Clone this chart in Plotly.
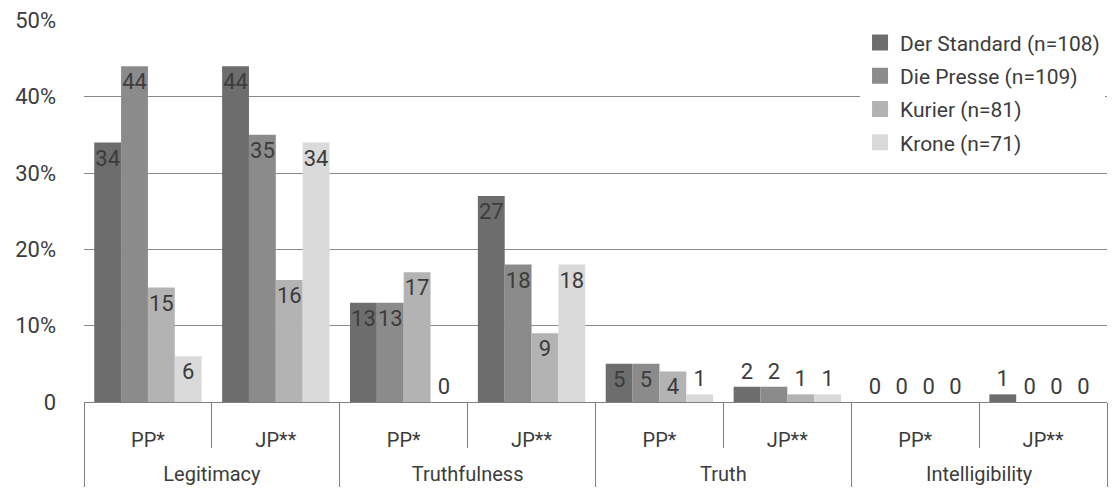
import plotly.graph_objects as go

outer = ["Legitimacy", "Legitimacy", "Truthfulness", "Truthfulness",
         "Truth", "Truth", "Intelligibility", "Intelligibility"]
inner_labels = ["PP*", "JP**", "PP*", "JP**", "PP*", "JP**", "PP*", "JP**"]

series_names = ["Der Standard (n=108)", "Die Presse (n=109)", "Kurier (n=81)", "Krone (n=71)"]
der_standard = [34, 44, 13, 27, 5, 2, 0, 1]
die_presse = [44, 35, 13, 18, 5, 2, 0, 0]
kurier = [15, 16, 17, 9, 4, 1, 0, 0]
krone = [6, 34, 0, 18, 1, 1, 0, 0]

y_tickvals = [0, 10, 20, 30, 40, 50]
y_ticktext = ["0", "10%", "20%", "30%", "40%", "50%"]

colors = ["#6d6d6d", "#8b8b8b", "#b3b3b3", "#dadada"]
FONT = "Roboto, sans-serif"
TXT = "#3c3c3c"

# inner labels get an (invisible) extra line so the outer row sits lower
inner = [lab + "<br><span style='font-size:30px'>\u00a0</span>" for lab in inner_labels]

fig = go.Figure()
for i, (name, vals) in enumerate(zip(series_names, [der_standard, die_presse, kurier, krone])):
    fig.add_trace(go.Bar(
        x=[outer, inner], y=vals, name=name,
        marker=dict(color=colors[i], line=dict(width=0)),
        text=[str(v) for v in vals],
        textposition=["inside" if v >= 4 else "outside" for v in vals],
        insidetextanchor="end",
        textangle=0,
        constraintext="none",
        textfont=dict(family=FONT, size=22, color=TXT),
        cliponaxis=False,
        showlegend=False,
    ))
    fig.add_trace(go.Scatter(
        x=[[outer[0]], [inner[0]]], y=[None], mode="markers", name=name,
        marker=dict(symbol="square", size=16, color=colors[i]),
        legendgroup=f"g{i}", showlegend=True, hoverinfo="skip",
    ))

fig.update_layout(
    width=1117, height=489,
    margin=dict(l=84, r=10, t=20, b=87),
    paper_bgcolor="white", plot_bgcolor="white",
    barmode="group", bargap=0.16, bargroupgap=0,
    font=dict(family=FONT, size=20, color=TXT),
    legend=dict(
        x=0.7586, xanchor="left", y=0.994, yanchor="top",
        bgcolor="white", borderwidth=0,
        font=dict(family=FONT, size=21, color=TXT),
        tracegroupgap=3, itemsizing="trace",
    ),
    xaxis=dict(
        type="multicategory", automargin=False,
        showline=True, linecolor="#808080", linewidth=1,
        ticks="outside", ticklen=45, tickcolor="#808080", tickwidth=1,
        showdividers=True, dividercolor="#808080", dividerwidth=1,
        tickfont=dict(family=FONT, size=20, color=TXT),
        ticklabelstandoff=20,
        showgrid=False,
    ),
    yaxis=dict(
        range=[0, 50.05], tickvals=y_tickvals, ticktext=y_ticktext,
        automargin=False,
        showgrid=True, gridcolor="#8a8a8a", gridwidth=1,
        zeroline=False, showline=False,
        ticks="", ticklabelstandoff=27,
        tickfont=dict(family=FONT, size=22, color=TXT),
    ),
)

fig.write_html("out.html", config={"displayModeBar": False},
               post_script="document.body.style.margin='0';")
